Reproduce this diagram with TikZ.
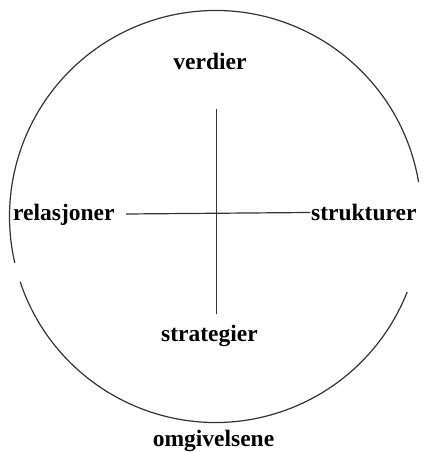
\documentclass[tikz,border=0pt]{standalone}
\usepackage{fontspec}
\newfontfamily\lblfont{LiberationSerif-Bold.ttf}
\begin{document}
\begin{tikzpicture}[x=1pt,y=1pt,
  lbl/.style={font=\lblfont\fontsize{23.5}{28}\selectfont, inner sep=0pt, anchor=base},
  ln/.style={line width=1.2pt, draw=black!80}]
\useasboundingbox (0,0) rectangle (423,452);
% circle centre (215.5, 235.5), r = 206
\coordinate (c) at (215.5,235.5);
\draw[ln] ([shift={(9.6:206)}]c) arc[start angle=9.6, end angle=193, radius=206];
\draw[ln] ([shift={(198.5:206)}]c) arc[start angle=198.5, end angle=338.5, radius=206];
% labels
\node[lbl] (verdier) at (210,382) {verdier};
\node[lbl, anchor=base west] (relasjoner) at (13,231) {relasjoner};
\node[lbl, anchor=base west] (strukturer) at (311,231) {strukturer};
\node[lbl] (strategier) at (209.5,110) {strategier};
\node[lbl] (omgivelsene) at (213.5,5.5) {omgivelsene};
% cross
\coordinate (top) at (216.5,343);
\coordinate (bot) at (216.5,138);
\coordinate (lft) at (126,238);
\coordinate (rgt) at (310,239.5);
\draw[ln] (top) -- (bot);
\draw[ln] (lft) -- (rgt);
\end{tikzpicture}
\end{document}
